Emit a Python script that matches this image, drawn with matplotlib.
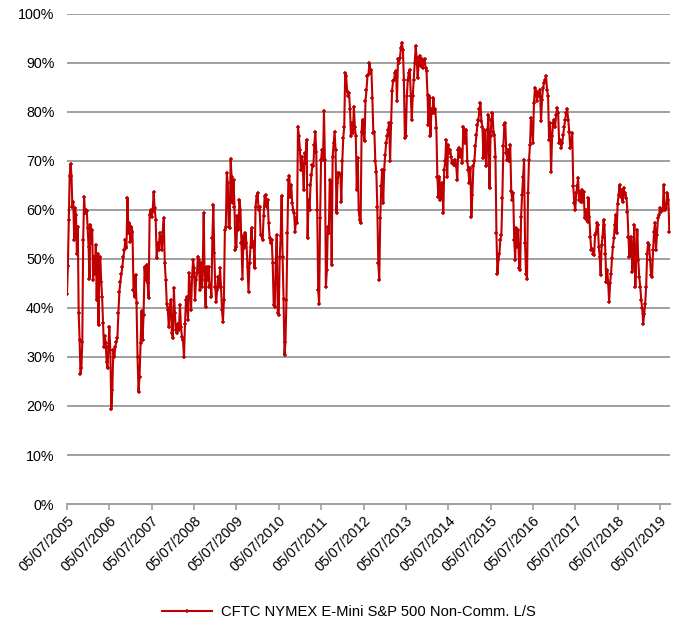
import pandas as pd
import matplotlib
matplotlib.use('Agg')
import matplotlib.pyplot as plt
import matplotlib.dates as mdates
from matplotlib.ticker import MultipleLocator, PercentFormatter

plt.rcParams['font.family'] = ['Liberation Sans', 'DejaVu Sans']

# CFTC NYMEX E-Mini S&P 500, non-commercial long/short (%)
# one list per year, each year runs from 5 July to the next 5 July
y2005 = [42.9, 48.6, 58, 67, 69.4, 67, 60.7, 61.7, 53.9, 60.3, 59, 51, 56.6, 38.9, 33.5, 26.5,
         27.7, 33, 53.9, 62.7, 59.3, 60, 59.7, 56.3, 52.5, 46, 57, 53.2, 55.9, 45.7, 50.5, 47,
         52.9, 41.6, 51, 36.5, 48.4, 50.5, 45.4, 42.3, 36.9, 32.1, 34.2, 32.8, 29, 27.7, 32.1]
y2006 = [36.2, 31.4, 19.3, 23.3, 31.4, 30, 32.1, 33.1, 33.8, 38.9, 43.3, 45.4, 47, 48.4, 50.5,
         51.8, 53.9, 52.2, 62.5, 55.2, 57.3, 53.5, 56.6, 55.6, 43.7, 42.3, 46.7, 41, 30, 22.9,
         26, 32.8, 39.3, 33.5, 38.6, 48.4, 45.7, 48.8, 45, 42, 59, 60]
y2007 = [58.6, 59.7, 63.7, 60.3, 58, 50.1, 53.2, 51.8, 55.2, 54.5, 51.8, 55.6, 58.3, 49.1, 45.7,
         40.9, 39.6, 36.2, 40.3, 41.6, 34.8, 33.8, 44, 38.9, 35.5, 34.8, 36.8, 35.5, 40.6, 36.2,
         34.1, 33.4, 29.9, 36.8, 41.6, 42.3, 37.5, 47.1, 44.3, 39.6, 46.4, 49.8]
y2008 = [48.1, 41.6, 45.7, 47.1, 50.5, 49.8, 43.7, 49.1, 44.3, 48.8, 59.3, 45.7, 40.3, 48.4, 45.7,
         48.4, 44.3, 44.7, 42.3, 54.2, 61.0, 51.2, 44.3, 41.3, 43.7, 46.4, 44.3, 48.1, 44.3, 39.6,
         37.2, 41.6, 55.9, 56.6, 67.5, 65.5, 56.6, 56.3, 70.3, 66.8, 61.4, 66.2, 60.7, 51.8]
y2009 = [52.5, 58.7, 55.9, 62.1, 60, 53.2, 46, 54.6, 52.2, 55.3, 53.2, 48.4, 43.3, 49.1, 52.5,
         56.3, 52.5, 53.5, 48.1, 60.7, 62.8, 63.4, 60, 60.7, 54.9, 54.6, 53.9, 58.7, 62.8, 63.1,
         60.7, 62.1, 57.3, 54.2, 53.2, 53.9, 49.1, 40.6, 40.2, 49.1, 54.9, 38.9]
y2010 = [38.5, 50.5, 54.6, 62.9, 50.5, 41.9, 30.4, 33.1, 41.6, 55.2, 66.1, 67, 62.7, 65.1, 61.4,
         60, 59.3, 55.6, 58.3, 57.3, 77, 75, 72.3, 68.2, 70.9, 68.5, 64.1, 71.6, 69.5, 74.3,
         54.2, 62.1, 60, 65.1, 67.2, 69.2, 68.9, 73.3, 76, 71.9, 60, 43.6, 40.9, 58.3]
y2011 = [70.2, 72.3, 70.2, 80.1, 70.2, 44.3, 47.7, 56.6, 55.2, 66.1, 65.8, 48.8, 70.9, 73.6, 76,
         72.3, 59.3, 65.5, 67.5, 67.5, 67.2, 61.7, 69.9, 74.7, 77, 88, 87.3, 84.2, 83.2, 83.9,
         80.5, 75, 77.7, 75.7, 81.1, 77, 75, 64.1, 70.6, 60, 58, 57.3, 76, 78.4]
y2012 = [75.7, 74, 82.2, 84.5, 87.3, 87.6, 90, 88, 88.6, 82.8, 75.7, 76, 69.9, 67.8, 60.7, 49.1,
         45.7, 58.3, 64.8, 68.2, 61.4, 68.2, 71.3, 73.6, 75, 76.4, 77.7, 69.9, 77.7, 84.2, 86.3,
         86.6, 88, 88.3, 82.2, 90.7, 90, 91, 93.1, 94.1, 92.7, 86.6, 74.7]
y2013 = [75, 83.2, 86.6, 88, 88.6, 83.2, 78.4, 83.2, 86.6, 90, 93.4, 91, 86.9, 89.7, 91.4, 89.3,
         90.7, 89, 90, 90.7, 89, 88.3, 83.5, 77.4, 83.2, 75, 80.5, 79.8, 82.8, 79.8, 80.5, 76.7,
         66.8, 62.7, 66.8, 62.1, 64.8, 65.5, 59.3, 68.2, 69.9, 74.3, 66.8]
y2014 = [73.3, 71.6, 72.3, 70.9, 69.5, 69.9, 69.2, 70.2, 68.9, 66.1, 72.3, 72.6, 70.9, 72.3, 69.5,
         77, 75.7, 73.6, 76.4, 69.9, 68.2, 65.5, 68.5, 58.6, 63.1, 68.9, 69.9, 73, 75.3, 77.4,
         78.4, 80.5, 81.8, 78.1, 77, 70.6, 76.4, 70.9, 68.9, 76.4, 79.4, 64.4]
y2015 = [75, 78.4, 79.8, 76, 75.3, 70.9, 55.2, 47, 49.8, 51.1, 53.9, 54.9, 62.4, 73, 77.4, 77.7,
         71.6, 70.2, 72.3, 69.9, 73.3, 63.8, 62.1, 63.4, 53.9, 49.8, 56.3, 52.5, 55.9, 48.1, 47.7,
         58.6, 63.1, 66.8, 70.2, 53.2, 47, 46, 63.4, 70.2, 73.3, 78.8, 77]
y2016 = [73.6, 81.8, 84.9, 84.2, 82.2, 83.9, 83.2, 84.5, 78.1, 82.5, 84.9, 85.9, 86.6, 87.3, 84.5,
         83.2, 74.3, 77.7, 67.8, 75, 77.7, 78.4, 77, 79.4, 80.8, 79.8, 73.6, 74.3, 72.6, 73.6,
         75.3, 77, 78.4, 79.8, 80.5, 78.4, 76, 72.6, 73.6, 75.7, 64.8, 61.4]
y2017 = [60, 63.4, 64.8, 66.5, 62, 63.7, 61.7, 64.1, 61.7, 63.7, 58.3, 60, 57.9, 57.6, 62.4, 58.6,
         54.5, 51.8, 52.1, 51.1, 50.8, 54.9, 55.2, 57.3, 56.9, 52.5, 50.4, 46.7, 52.8, 54.5, 57.9,
         56.9, 51.1, 45.3, 47.7, 45, 41.2, 45, 47, 50.1, 52.5, 54.2, 56.9, 59, 55.2]
y2018 = [61.3, 63, 65.1, 62.7, 64.1, 61.7, 64.4, 63.4, 63, 62.4, 59.6, 54.5, 50.4, 54.2, 54.5,
         47.4, 51.8, 56.9, 44.3, 50.8, 55.9, 49.8, 46.3, 44.3, 41.6, 39.9, 36.8, 38.8, 40.9, 44.3,
         51.1, 53.2, 52.8, 49.8, 46.7, 46.3, 51.8, 55.5, 57.3, 51.8, 54.9, 58.3, 59]
y2019 = [60.3, 59.6, 60, 60, 65.1, 60, 60.3, 61.3, 63.4, 62, 55.5]

years = list(range(2005, 2020))
series = [y2005, y2006, y2007, y2008, y2009, y2010, y2011, y2012, y2013,
          y2014, y2015, y2016, y2017, y2018, y2019]
last_date = '2019-09-24'
label = 'CFTC NYMEX E-Mini S&P 500 Non-Comm. L/S'

dates = []
values = []
for yr, vals in zip(years, series):
    start = pd.Timestamp(f'{yr}-07-05')
    if yr < years[-1]:
        d = pd.date_range(start, pd.Timestamp(f'{yr + 1}-07-05'), periods=len(vals) + 1)[:-1]
    else:
        d = pd.date_range(start, pd.Timestamp(last_date), periods=len(vals))
    dates.extend(d)
    values.extend(vals)

fig, ax = plt.subplots(figsize=(6.8, 6.32), dpi=100)
fig.subplots_adjust(left=0.0985, right=0.985, top=0.978, bottom=0.2025)

ax.plot(dates, values, color='#C00000', lw=1.5, marker='+', ms=3.5, mew=1.1, label=label)

# axes settings
grey = '#a0a0a0'
ax.set_ylim(0, 100)
ax.yaxis.set_major_locator(MultipleLocator(10))
ax.yaxis.set_major_formatter(PercentFormatter(decimals=0))
ax.yaxis.grid(True, color=grey, lw=1.4)
ax.set_axisbelow(True)
ax.set_xlim(pd.Timestamp('2005-07-05'), pd.Timestamp('2019-09-28'))
ax.set_xticks([pd.Timestamp(f'{y}-07-05') for y in years])
ax.xaxis.set_major_formatter(mdates.DateFormatter('%d/%m/%Y'))
for s in ['left', 'right', 'top']:
    ax.spines[s].set_visible(False)
ax.spines['bottom'].set_color(grey)
ax.spines['bottom'].set_linewidth(1.4)
ax.tick_params(axis='y', length=0, labelsize=10.3, pad=9)
ax.tick_params(axis='x', length=4, color=grey, width=1.2, labelsize=10.4, pad=3)
plt.setp(ax.get_xticklabels(), rotation=45, ha='right', va='top', rotation_mode='anchor')

fig.legend(loc='center', bbox_to_anchor=(0.513, 0.032), frameon=False, fontsize=10.6,
           handlelength=3.4, handletextpad=0.6)

fig.savefig('out.png', dpi=100)
